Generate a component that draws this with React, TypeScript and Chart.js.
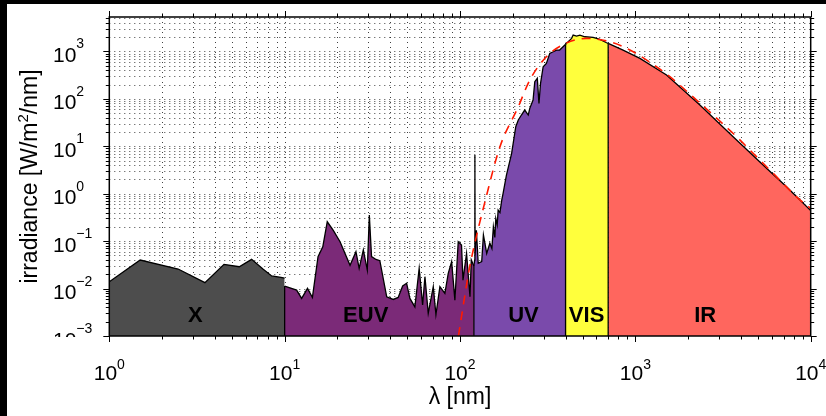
import React, { useEffect, useRef } from 'react';
import { Chart, registerables } from 'chart.js';

Chart.register(...registerables);

// ---------- data (wavelength in nm, irradiance in W/m^2/nm) ----------
const X_LAMBDA = [1, 1.5, 2.47, 3.51, 4.51, 5.51, 6.48, 7.55, 8.43, 9.52, 10];
const X_IRR = [0.0139, 0.04, 0.0258, 0.0133, 0.0324, 0.0288, 0.0413, 0.0255, 0.0184, 0.0173, 0.0165];

const EUV_LAMBDA = [10, 11.7, 12.5, 13.5, 14.4, 15.5, 16.5, 17.5, 18.9, 20.7, 23.6, 25.5, 26.6, 28.1, 29.6, 30.4, 31.3, 33.2, 34.9, 38.2, 41.6, 44.4, 47.1, 49.6, 51.8, 55.3, 58.5, 61.2, 63.1, 65.9, 70.4, 72.9, 76.8, 82, 85.7, 89.6, 93.5, 97.7, 102, 104, 109, 114, 116, 120];
const EUV_IRR = [0.0113, 0.0093, 0.0062, 0.0101, 0.0065, 0.047, 0.076, 0.256, 0.171, 0.097, 0.031, 0.06, 0.0267, 0.065, 0.0246, 0.355, 0.047, 0.041, 0.0386, 0.0067, 0.0059, 0.0065, 0.0113, 0.0129, 0.0062, 0.0041, 0.0267, 0.0045, 0.0178, 0.003, 0.011, 0.0028, 0.011, 0.0079, 0.021, 0.037, 0.0057, 0.097, 0.083, 0.015, 0.055, 0.0067, 0.04, 0.03];

const UV_LAMBDA = [120, 121.3, 121.6, 121.9, 124, 127, 133, 136, 142, 148, 152, 155, 158, 160, 163, 165, 169, 173, 176, 184, 197, 208, 215, 224, 234, 245, 250, 261, 267, 276, 282, 288, 298, 311, 325, 340, 355, 370, 387, 396, 400];
const UV_IRR = [0.03, 0.04, 6.5, 0.05, 0.17, 0.034, 0.037, 0.135, 0.055, 0.09, 0.07, 0.2, 0.12, 0.3, 0.22, 0.45, 0.4, 0.73, 1.0, 2.47, 7.1, 25.8, 35.7, 45.5, 58, 45.5, 63, 94, 229, 270, 80, 212, 474, 558, 908, 981, 1065, 1065, 1250, 1358, 1400];

const VIS_LAMBDA = [400, 401, 414, 433, 442, 462, 483, 515, 574, 628, 685, 700];
const VIS_IRR = [1400, 1473, 1596, 1877, 2205, 2101, 2205, 2033, 1972, 1790, 1520, 1473];

const IR_LAMBDA = [700, 851, 1062, 1506, 1875, 2333, 3611, 5598, 7280, 10000];
const IR_IRR = [1473, 1065, 711, 317, 153, 73.8, 15.9, 3.42, 1.4, 0.44];

// blackbody reference curve (red dashed)
const BB_LAMBDA = [98, 111, 114, 142, 169, 215, 250, 311, 401, 527, 748, 972, 1236, 1573, 2234, 2780, 3777, 4697, 6109, 8299, 10000];
const BB_IRR = [0.001, 0.018, 0.031, 0.94, 9.8, 68, 248, 771, 1473, 1877, 1520, 981, 558, 292, 94, 45.5, 15.9, 7.08, 2.68, 0.86, 0.49];

const REGION_NAMES = ['X', 'EUV', 'UV', 'VIS', 'IR'];
const REGION_LAMBDAS = [X_LAMBDA, EUV_LAMBDA, UV_LAMBDA, VIS_LAMBDA, IR_LAMBDA];
const REGION_IRRS = [X_IRR, EUV_IRR, UV_IRR, VIS_IRR, IR_IRR];
const REGION_LABEL_LAMBDA = [3.1, 29, 230, 527, 2500];
const REGION_BOUNDS = [10, 120, 400, 700];
const REGION_COLORS = ['#4d4d4d', '#7b2a78', '#7a4aab', '#ffff3c', '#ff665e'];

const X_TICK_EXP = [0, 1, 2, 3, 4];
const Y_TICK_EXP = [-3, -2, -1, 0, 1, 2, 3];
const X_MIN = 1;
const X_MAX = 10000;
const Y_MIN = 0.001;
const Y_MAX = 5300;

const FONT = '"Liberation Sans", Arial, Helvetica, sans-serif';

function expText(e: number) {
  return e < 0 ? '\u2212' + Math.abs(e) : String(e);
}

function minorValues(minExp: number, maxVal: number) {
  const out: number[] = [];
  for (let k = minExp; k <= 5; k++) {
    for (let m = 1; m <= 9; m++) {
      const v = m * Math.pow(10, k);
      if (v <= maxVal * 1.0001) out.push(v);
    }
  }
  return out;
}

const axesPlugin = {
  id: 'axesPlugin',
  beforeDraw(chart: any) {
    const { ctx, width, height } = chart;
    ctx.save();
    ctx.fillStyle = '#000';
    ctx.fillRect(0, 0, width, height);
    ctx.fillStyle = '#fff';
    ctx.fillRect(7, 4, width - 7, height - 4);
    ctx.restore();
  },
  beforeDatasetsDraw(chart: any) {
    const { ctx, chartArea } = chart;
    const { left, right, top, bottom } = chartArea;
    const xs = chart.scales.x;
    const ys = chart.scales.y;
    ctx.save();
    ctx.strokeStyle = 'rgba(0,0,0,0.75)';
    ctx.lineWidth = 1;
    ctx.setLineDash([1, 4]);
    for (const v of minorValues(0, X_MAX)) {
      const px = Math.round(xs.getPixelForValue(v)) + 0.5;
      if (px < left + 1 || px > right - 1) continue;
      ctx.beginPath();
      ctx.moveTo(px, top);
      ctx.lineTo(px, bottom);
      ctx.stroke();
    }
    for (const v of minorValues(-3, Y_MAX)) {
      const py = Math.round(ys.getPixelForValue(v)) + 0.5;
      if (py < top + 1 || py > bottom - 1) continue;
      ctx.beginPath();
      ctx.moveTo(left, py);
      ctx.lineTo(right, py);
      ctx.stroke();
    }
    ctx.restore();
  },
  afterDatasetsDraw(chart: any) {
    const { ctx, chartArea } = chart;
    const { left, right, top, bottom } = chartArea;
    const xs = chart.scales.x;
    const ys = chart.scales.y;
    ctx.save();

    // region labels
    ctx.fillStyle = '#000';
    ctx.font = 'bold 22px ' + FONT;
    ctx.textAlign = 'center';
    ctx.textBaseline = 'alphabetic';
    REGION_NAMES.forEach((name, i) => {
      ctx.fillText(name, xs.getPixelForValue(REGION_LABEL_LAMBDA[i]), bottom - 14);
    });

    // box
    ctx.strokeStyle = '#000';
    ctx.lineWidth = 1.5;
    ctx.setLineDash([]);
    ctx.strokeRect(left, top, right - left, bottom - top);

    // ticks
    ctx.lineWidth = 1;
    const xMajor = X_TICK_EXP.map((e) => Math.pow(10, e));
    for (const v of minorValues(0, X_MAX)) {
      const px = Math.round(xs.getPixelForValue(v)) + 0.5;
      const isMajor = xMajor.some((m) => Math.abs(m - v) / m < 1e-6);
      const len = isMajor ? 6 : 3.5;
      ctx.beginPath();
      ctx.moveTo(px, bottom);
      ctx.lineTo(px, bottom + len);
      ctx.moveTo(px, top);
      ctx.lineTo(px, top - len);
      ctx.stroke();
    }
    const yMajor = Y_TICK_EXP.map((e) => Math.pow(10, e));
    for (const v of minorValues(-3, Y_MAX)) {
      const py = Math.round(ys.getPixelForValue(v)) + 0.5;
      const isMajor = yMajor.some((m) => Math.abs(m - v) / m < 1e-6);
      const len = isMajor ? 6 : 3.5;
      ctx.beginPath();
      ctx.moveTo(left, py);
      ctx.lineTo(left - len, py);
      ctx.moveTo(right, py);
      ctx.lineTo(right + len, py);
      ctx.stroke();
    }

    // x tick labels
    ctx.fillStyle = '#000';
    ctx.textAlign = 'left';
    ctx.textBaseline = 'alphabetic';
    for (const e of X_TICK_EXP) {
      const px = xs.getPixelForValue(Math.pow(10, e));
      ctx.font = '21px ' + FONT;
      const wb = ctx.measureText('10').width;
      ctx.font = '14px ' + FONT;
      const we = ctx.measureText(expText(e)).width;
      const x0 = px - (wb + we) / 2;
      ctx.font = '21px ' + FONT;
      ctx.fillText('10', x0, bottom + 44);
      ctx.font = '14px ' + FONT;
      ctx.fillText(expText(e), x0 + wb, bottom + 33);
    }

    // y tick labels
    for (const e of Y_TICK_EXP) {
      const py = ys.getPixelForValue(Math.pow(10, e));
      ctx.save();
      if (e === Y_TICK_EXP[0]) {
        ctx.beginPath();
        ctx.rect(0, 0, left, bottom + 1);
        ctx.clip();
      }
      ctx.font = '21px ' + FONT;
      ctx.fillText('10', 53, py + 10.5);
      const wb = ctx.measureText('10').width;
      ctx.font = '14px ' + FONT;
      ctx.fillText(expText(e), 53 + wb, py - 3);
      ctx.restore();
    }

    // axis titles
    ctx.font = '23px ' + FONT;
    ctx.textAlign = 'center';
    ctx.fillText('\u03bb [nm]', (left + right) / 2, 404);

    ctx.save();
    ctx.translate(36.5, (top + bottom) / 2);
    ctx.rotate(-Math.PI / 2);
    ctx.textAlign = 'left';
    const p1 = 'irradiance [W/m';
    const p2 = '2';
    const p3 = '/nm]';
    ctx.font = '23px ' + FONT;
    const w1 = ctx.measureText(p1).width;
    const w3 = ctx.measureText(p3).width;
    ctx.font = '15px ' + FONT;
    const w2 = ctx.measureText(p2).width;
    const start = -(w1 + w2 + w3) / 2;
    ctx.font = '23px ' + FONT;
    ctx.fillText(p1, start, 0);
    ctx.font = '15px ' + FONT;
    ctx.fillText(p2, start + w1, -9);
    ctx.font = '23px ' + FONT;
    ctx.fillText(p3, start + w1 + w2, 0);
    ctx.restore();

    ctx.restore();
  },
};

function toPoints(lx: number[], ly: number[]) {
  return lx.map((x, i) => ({ x, y: ly[i] }));
}

export default function App() {
  const canvasRef = useRef<HTMLCanvasElement | null>(null);

  useEffect(() => {
    if (!canvasRef.current) return;
    const datasets: any[] = [];

    // red dashed blackbody (on top)
    datasets.push({
      data: toPoints(BB_LAMBDA, BB_IRR),
      borderColor: '#ff1a00',
      borderWidth: 1.6,
      borderDash: [9, 7],
      pointRadius: 0,
      fill: false,
      cubicInterpolationMode: 'monotone',
      order: 0,
    });

    // region boundaries
    REGION_BOUNDS.forEach((b, i) => {
      datasets.push({
        data: [
          { x: b, y: Y_MIN },
          { x: b, y: REGION_IRRS[i + 1][0] },
        ],
        borderColor: '#000',
        borderWidth: 1.3,
        pointRadius: 0,
        fill: false,
        order: 1,
      });
    });

    // filled regions
    REGION_NAMES.forEach((name, i) => {
      datasets.push({
        label: name,
        data: toPoints(REGION_LAMBDAS[i], REGION_IRRS[i]),
        borderColor: '#000',
        borderWidth: 1.3,
        backgroundColor: REGION_COLORS[i],
        pointRadius: 0,
        fill: 'start',
        tension: 0,
        order: 2 + i,
      });
    });

    const chart = new Chart(canvasRef.current, {
      type: 'line',
      data: { datasets },
      options: {
        animation: false,
        responsive: false,
        devicePixelRatio: 1,
        layout: { padding: { left: 109.3, right: 15.3, top: 17, bottom: 80 } },
        plugins: { legend: { display: false }, tooltip: { enabled: false } },
        scales: {
          x: { type: 'logarithmic', min: X_MIN, max: X_MAX, display: false },
          y: { type: 'logarithmic', min: Y_MIN, max: Y_MAX, display: false },
        },
      },
      plugins: [axesPlugin],
    } as any);
    return () => chart.destroy();
  }, []);

  return (
    <div style={{ position: 'fixed', left: 0, top: 0, width: 826, height: 416 }}>
      <canvas ref={canvasRef} width={826} height={416} style={{ display: 'block' }} />
    </div>
  );
}
